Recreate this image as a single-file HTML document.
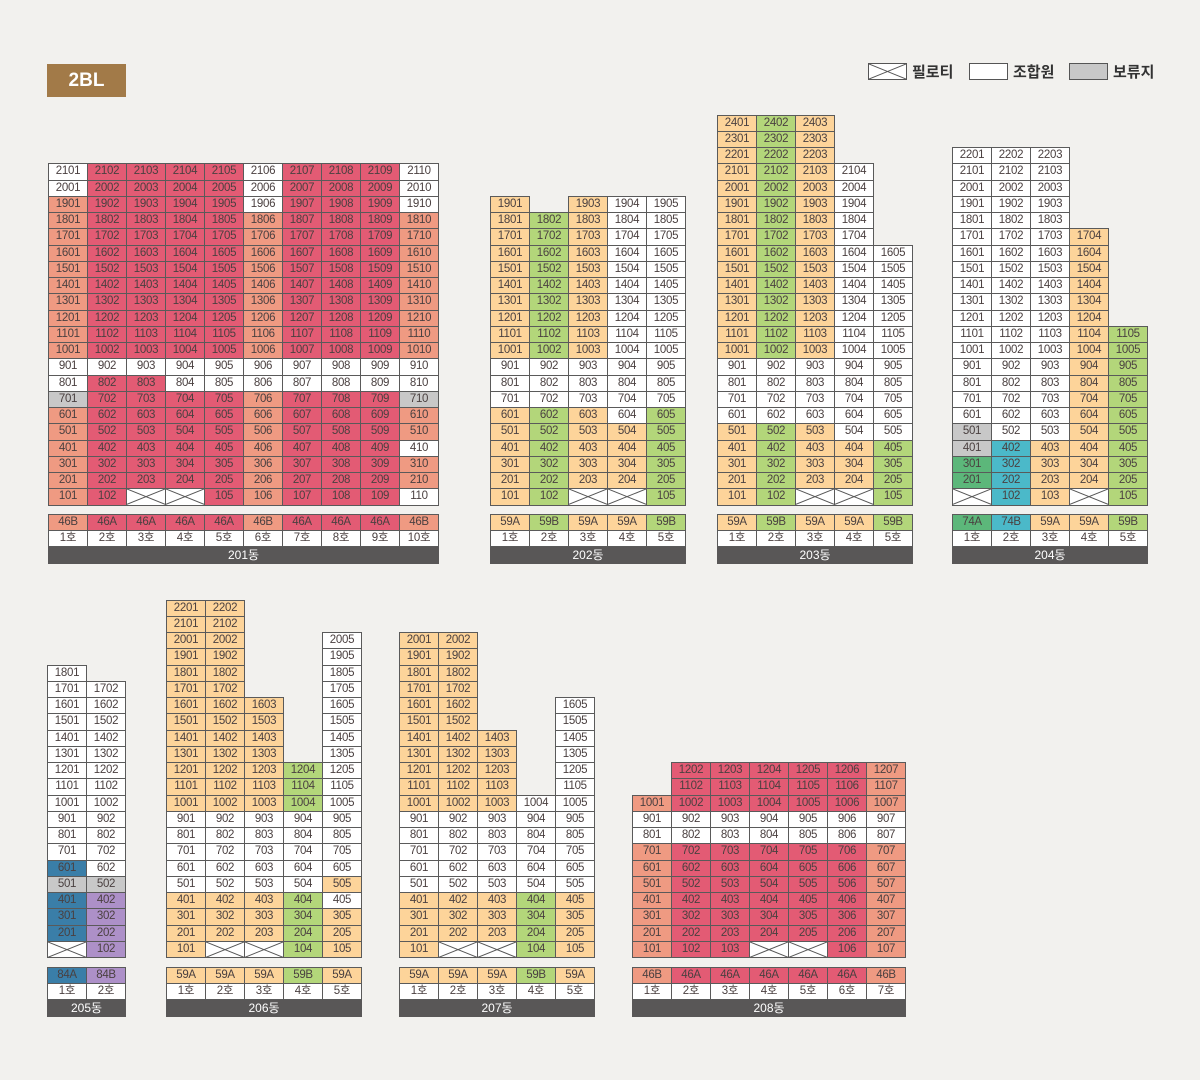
<!DOCTYPE html>
<html><head><meta charset="utf-8"><style>
html,body{margin:0;padding:0;}
body{width:1200px;height:1080px;background:#f2f1ee;position:relative;overflow:hidden;font-family:"Liberation Sans","Noto Sans CJK KR",sans-serif;}
.c{position:absolute;box-sizing:border-box;border:1px solid #5a5a5a;font-size:11.5px;color:#4a4040;text-align:center;line-height:14px;letter-spacing:-0.3px;}
.bar{position:absolute;background:#595757;color:#fff;font-size:12px;text-align:center;line-height:17px;height:17px;}
#title{position:absolute;left:47px;top:64px;width:79px;height:33px;background:#a27a48;color:#fff;font-weight:bold;font-size:19px;line-height:33px;text-align:center;}
.lg{position:absolute;top:63px;width:39px;height:17px;box-sizing:border-box;border:1px solid #555;}
.lt{position:absolute;top:61px;font-size:15px;font-weight:bold;color:#333;}
</style></head><body>
<div id="title">2BL</div>
<div class="lg" style="left:868px;background:#fff"><svg width="37" height="15" style="display:block"><line x1="0" y1="0" x2="37" y2="15" stroke="#555"/><line x1="0" y1="15" x2="37" y2="0" stroke="#555"/></svg></div>
<div class="lt" style="left:912px">필로티</div>
<div class="lg" style="left:969px;background:#fff"></div>
<div class="lt" style="left:1013px">조합원</div>
<div class="lg" style="left:1069px;background:#c8c8c8"></div>
<div class="lt" style="left:1113px">보류지</div>
<div id="root"></div>
<script>
const COLORS={R:'#e35b74',S:'#ef9a82',W:'#ffffff',G:'#c8c8c8',O:'#fdd49a',L:'#b3d67a',D:'#5cb77a',T:'#4bb9c9',B:'#3a7ea8',P:'#ad90c8',X:'#ffffff'};
function rep(s,n){return Array(n).fill(s);}
const b201Rows=[].concat(['WRRRRWRRRW','WRRRRWRRRW','SRRRRWRRRW'],rep('SRRRRSRRRS',9),['WWWWWWWWWW','WRRWWWWWWW','GRRRRSRRRG','SRRRRSRRRS','SRRRRSRRRS','SRRRRSRRRW','SRRRRSRRRS','SRRRRSRRRS','SRXXRSRRRW']);
const b202Rows=[].concat(['O.OWW'],rep('OLOWW',9),rep('WWWWW',3),['OLOWL'],rep('OLOOL',4),['OLXXL']);
const b203Rows=[].concat(rep('OLO..',3),rep('OLOW.',5),rep('OLOWW',7),rep('WWWWW',4),['OLOWW'],rep('OLOOL',3),['OLXXL']);
const b204Rows=[].concat(rep('WWW..',5),rep('WWWO.',6),rep('WWWOL',6),['GWWOL','GTOOL','DTOOL','DTOOL','XTOXL']);
const b205Rows=[].concat(['W.'],rep('WW',11),['BW','GG','BP','BP','BP','XP']);
const b206Rows=[].concat(rep('OO...',2),rep('OO..W',4),rep('OOO.W',4),rep('OOOLW',3),rep('WWWWW',4),['WWWWO','OOOLW','OOOLO','OOOLO','OXXLO']);
const b207Rows=[].concat(rep('OO...',4),rep('OO..W',2),rep('OOO.W',4),['OOOWW'],rep('WWWWW',5),rep('OOOLO',3),['OXXLO']);
const b208Rows=[].concat(rep('.RRRRRS',2),['SRRRRRS','WWWWWWW','WWWWWWW'],rep('SRRRRRS',6),['SRRXXRS']);
const typeCodes={'201':'SRRRRSRRRS','202':'OLOOL','203':'OLOOL','204':'DTOOL','205':'BP','206':'OOOLO','207':'OOOLO','208':'SRRRRRS'};
const typeLabels={'201':['46B','46A','46A','46A','46A','46B','46A','46A','46A','46B'],'202':['59A','59B','59A','59A','59B'],'203':['59A','59B','59A','59A','59B'],'204':['74A','74B','59A','59A','59B'],'205':['84A','84B'],'206':['59A','59A','59A','59B','59A'],'207':['59A','59A','59A','59B','59A'],'208':['46B','46A','46A','46A','46A','46A','46B']};
const buildings=[['201',48,504.5,b201Rows],['202',490,504.5,b202Rows],['203',717,504.5,b203Rows],['204',952,504.5,b204Rows],['205',47,957,b205Rows],['206',166,957,b206Rows],['207',399,957,b207Rows],['208',632,957,b208Rows]];
const W=39,H=16.25;
const root=document.getElementById('root');
function cell(x,y,w,h,bg,txt){const d=document.createElement('div');d.className='c';d.style.left=x+'px';d.style.top=y+'px';d.style.width=(w+1)+'px';d.style.height=(h+1)+'px';d.style.lineHeight=(h-1)+'px';d.style.background=bg;if(txt!==undefined)d.textContent=txt;root.appendChild(d);return d;}
buildings.forEach(([name,x0,base,rows])=>{
  const n=rows.length;const cols=rows[0].length;
  rows.forEach((r,i)=>{const floor=n-i;
    for(let c=0;c<cols;c++){const k=r[c];if(k==='.')continue;
      const y=base-floor*H;const x=x0+c*W;
      let d;
      if(k==='X'){d=cell(x,y,W,H,'#fff');d.innerHTML='<svg width="'+(W-1)+'" height="'+(H-1)+'" style="display:block"><line x1="0" y1="0" x2="'+(W-1)+'" y2="'+(H-1)+'" stroke="#555"/><line x1="0" y1="'+(H-1)+'" x2="'+(W-1)+'" y2="0" stroke="#555"/></svg>';
        
        }
      else{d=cell(x,y,W,H,COLORS[k],String(floor*100+c+1));
        
        }
    }});
  const ty=base+9.5;
  for(let c=0;c<cols;c++){
    const t=cell(x0+c*W,ty,W,16,COLORS[typeCodes[name][c]],typeLabels[name][c]);
    
    
    const h=cell(x0+c*W,ty+16,W,16,'#fff',(c+1)+'호');
    
    
  }
  const b=document.createElement('div');b.className='bar';b.style.left=x0+'px';b.style.top=(ty+33)+'px';b.style.width=(cols*W+1)+'px';b.textContent=name+'동';
  
  
  root.appendChild(b);
});
</script>
</body></html>
